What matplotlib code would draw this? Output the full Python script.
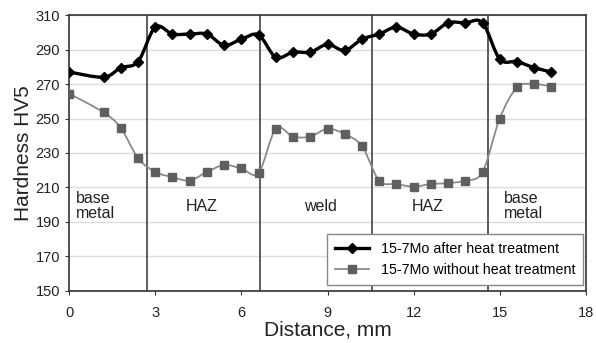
import numpy as np
import matplotlib.pyplot as plt
from matplotlib.path import Path
from matplotlib.patches import PathPatch
from matplotlib.lines import Line2D

plt.rcParams['font.family'] = ['Liberation Sans', 'DejaVu Sans']

# Data
distance = [0, 1.2, 1.8, 2.4, 3.0, 3.6, 4.2, 4.8, 5.4, 6.0, 6.6, 7.2, 7.8, 8.4,
            9.0, 9.6, 10.2, 10.8, 11.4, 12.0, 12.6, 13.2, 13.8, 14.4, 15.0,
            15.6, 16.2, 16.8]
after_ht = [277, 274, 279.5, 283, 303, 299, 299, 299, 292.5, 296, 298.5, 285.5,
            288.5, 288.5, 293, 289.5, 296, 299, 303, 299, 299, 305.5, 305.5,
            305.5, 284.5, 283, 279.5, 277]
without_ht = [264.5, 253.5, 244.5, 227, 219, 216, 214, 219, 223, 221, 218.5,
              244, 239.5, 239.5, 244, 241, 234, 214, 212, 210.5, 212, 212.5,
              214, 219, 250, 268, 270, 268.5]

zone_edges = [2.72, 6.65, 10.55, 14.6]
zone_labels = ['base\nmetal', 'HAZ', 'weld', 'HAZ', 'base\nmetal']
zone_label_x = [0.25, 4.63, 8.74, 12.5, 15.15]
zone_label_ha = ['left', 'center', 'center', 'center', 'left']


def smooth_path(x, y):
    # Excel-like smoothed line: cubic Bezier through each point
    p = np.column_stack([x, y]).astype(float)
    n = len(p)
    verts = [p[0]]
    codes = [Path.MOVETO]
    for i in range(n - 1):
        prev = p[max(i - 1, 0)]
        nxt = p[min(i + 2, n - 1)]
        c1 = p[i] + (p[i + 1] - prev) / 6
        c2 = p[i + 1] - (nxt - p[i]) / 6
        verts += [c1, c2, p[i + 1]]
        codes += [Path.CURVE4] * 3
    return Path(verts, codes)


fig = plt.figure(figsize=(5.96, 3.43), dpi=100)
ax = fig.add_axes([0.116, 0.152, 0.867, 0.804])

ax.set_xlim(0, 18)
ax.set_ylim(150, 310)
ax.set_xticks(np.arange(0, 19, 3))
ax.set_yticks(np.arange(150, 311, 20))
ax.grid(axis='y', color='#dddddd', linewidth=1)
ax.set_axisbelow(True)

for xe in zone_edges:
    ax.axvline(xe, color='#333333', linewidth=1.1, zorder=2)

ax.add_patch(PathPatch(smooth_path(distance, without_ht), fill=False,
                       edgecolor='#8a8a8a', linewidth=1.3, zorder=3))
ax.plot(distance, without_ht, linestyle='none', marker='s', markersize=6,
        color='#5f5f5f', zorder=4)
ax.add_patch(PathPatch(smooth_path(distance, after_ht), fill=False,
                       edgecolor='black', linewidth=2.4, zorder=5))
ax.plot(distance, after_ht, linestyle='none', marker='D', markersize=5.5,
        color='black', zorder=6)

for lbl, xl, ha in zip(zone_labels, zone_label_x, zone_label_ha):
    ax.text(xl, 199, lbl, ha=ha, va='center', fontsize=11.5, color='#222222',
            linespacing=1.0)

handles = [
    Line2D([], [], color='black', linewidth=2.4, marker='D', markersize=5.5),
    Line2D([], [], color='#8a8a8a', linewidth=1.3, marker='s', markersize=6,
           markerfacecolor='#5f5f5f', markeredgecolor='#5f5f5f'),
]
leg = ax.legend(handles, ['15-7Mo after heat treatment',
                          '15-7Mo without heat treatment'],
                loc='lower right', bbox_to_anchor=(1.0, 0.01), fontsize=10.3,
                frameon=True, fancybox=False, edgecolor='#888888',
                framealpha=1, handlelength=2.4, borderpad=0.55,
                borderaxespad=0.2)
leg.set_zorder(10)

for s in ax.spines.values():
    s.set_color('#333333')
    s.set_linewidth(1.2)
ax.tick_params(direction='out', length=3, color='#333333', labelsize=10.5,
               labelcolor='#222222')
ax.tick_params(axis='x', pad=8)

ax.set_xlabel('Distance, mm', fontsize=15, labelpad=0, color='#222222')
ax.set_ylabel('Hardness HV5', fontsize=15, labelpad=2, color='#222222')

fig.savefig('out.png', dpi=100)
